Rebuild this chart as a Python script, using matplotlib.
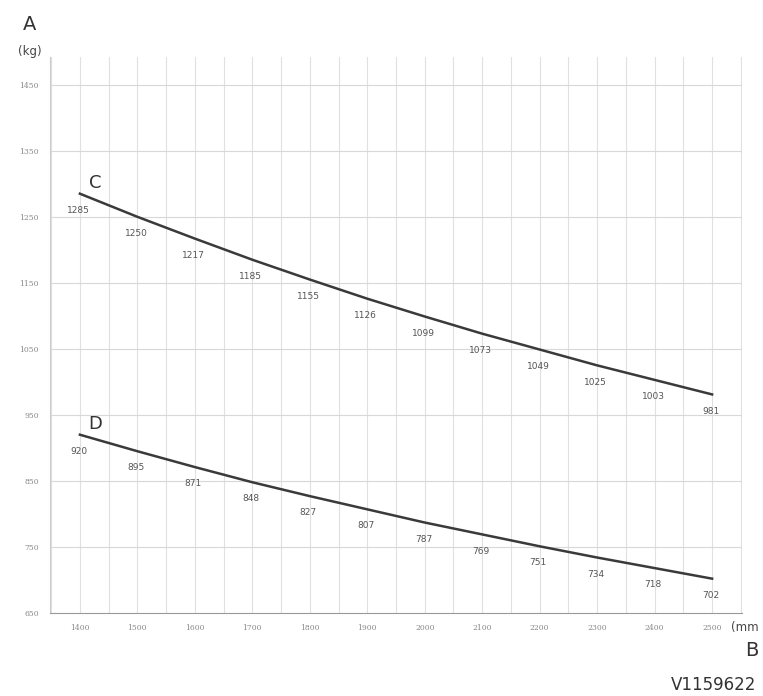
import numpy as np
import matplotlib
matplotlib.use("Agg")
import matplotlib.pyplot as plt

# Données
widths = [1400, 1500, 1600, 1700, 1800, 1900, 2000, 2100, 2200, 2300, 2400, 2500]
load_c = [1285, 1250, 1217, 1185, 1155, 1126, 1099, 1073, 1049, 1025, 1003, 981]
load_d = [920, 895, 871, 848, 827, 807, 787, 769, 751, 734, 718, 702]
y_ticks = [650, 750, 850, 950, 1050, 1150, 1250, 1350, 1450]
x_ticks = [1400, 1500, 1600, 1700, 1800, 1900, 2000, 2100, 2200, 2300, 2400, 2500]

W, H = 763, 696
fig = plt.figure(figsize=(W / 100, H / 100), dpi=100)
ax = fig.add_axes([50 / W, (H - 613) / H, (742 - 50) / W, (613 - 57) / H])

ax.set_xlim(1348, 2552)
ax.set_ylim(650, 1492)

# Grille : verticales tous les 50 mm, horizontales tous les 100 kg
for x in np.arange(1350, 2551, 50):
    ax.axvline(x, color="#e0e0e0", lw=0.8, zorder=0)
for y in y_ticks[1:]:
    ax.axhline(y, color="#d8d8d8", lw=0.8, zorder=0)

for name, vals in (("C", load_c), ("D", load_d)):
    ax.plot(widths, vals, color="#3a3a3a", lw=1.8, zorder=3)
    for x, v in zip(widths, vals):
        ax.annotate(str(v), (x, v), xytext=(-1, -12), textcoords="offset points",
                    ha="center", va="center", fontsize=6.5, color="#555555")
    ax.annotate(name, (widths[0], vals[0]), xytext=(11, 8), textcoords="offset points",
                ha="center", va="center", fontsize=13, color="#333333")

ax.set_xticks(x_ticks)
ax.set_yticks(y_ticks)
ax.tick_params(length=0, labelsize=5.5, labelcolor="#888888", pad=8)
for lab in ax.get_xticklabels() + ax.get_yticklabels():
    lab.set_family("DejaVu Serif")

for side in ("top", "right"):
    ax.spines[side].set_visible(False)
ax.spines["left"].set_color("#cccccc")
ax.spines["bottom"].set_color("#999999")

fig.text(30 / W, 1 - 25 / H, "A", fontsize=14, color="#333333", ha="center", va="center")
fig.text(30 / W, 1 - 51 / H, "(kg)", fontsize=8.5, color="#444444", ha="center", va="center")
fig.text(731 / W, 1 - 627 / H, "(mm", fontsize=8.5, color="#444444", ha="left", va="center")
fig.text(752 / W, 1 - 650 / H, "B", fontsize=14, color="#333333", ha="center", va="center")
fig.text(671 / W, 1 - 685 / H, "V1159622", fontsize=12, color="#333333", ha="left", va="center")

fig.savefig("out.png", dpi=100, facecolor="white")
